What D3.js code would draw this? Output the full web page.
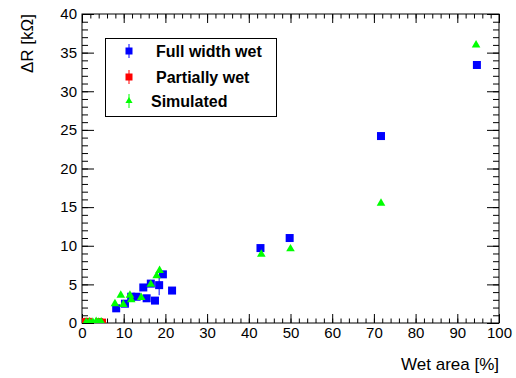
<!DOCTYPE html>
<html>
<head>
<meta charset="utf-8">
<script src="https://cdn.jsdelivr.net/npm/d3@7"></script>
<style>
  body { margin: 0; background: #fff; }
  svg { font-family: "Liberation Sans", Arial, sans-serif; }
</style>
</head>
<body>
<svg width="516" height="378"></svg>
<script>
// data
const fullX = [8.2, 10.3, 11.8, 13.1, 14.7, 15.5, 16.5, 17.5, 18.5, 19.4, 21.6, 42.8, 49.8, 71.7, 94.7];
const fullY = [1.9, 2.5, 3.4, 3.4, 4.6, 3.2, 5.1, 2.9, 4.9, 6.3, 4.2, 9.7, 11.0, 24.2, 33.4];
const fullErr = [0.3, 0.3, 0.3, 0.3, 0.3, 0.3, 0.3, 0.3, 1.3, 0.3, 0.3, 0.4, 0.4, 0.5, 0.5];

const partX = [0.3, 0.8, 1.4, 4.1, 4.8];
const partY = [0.1, 0.05, 0.15, 0.1, 0.05];

const simX = [1.0, 1.8, 2.6, 3.4, 4.0, 4.6, 7.9, 9.3, 9.9, 11.5, 11.8, 14.2, 16.5, 17.9, 18.6, 43.0, 50.0, 71.7, 94.5];
const simY = [0.1, 0.15, 0.1, 0.2, 0.1, 0.15, 2.5, 3.6, 2.4, 3.6, 3.0, 3.3, 5.0, 6.1, 6.8, 8.9, 9.6, 15.5, 36.0];

const legendLabels = ['Full width wet', 'Partially wet', 'Simulated'];

const svg = d3.select('svg');
const fLeft = 82, fRight = 499, fTop = 14, fBottom = 323;

const x = d3.scaleLinear().domain([0, 100]).range([fLeft, fRight]);
const y = d3.scaleLinear().domain([0, 40]).range([fBottom, fTop]);

// clip markers to the frame
svg.append('clipPath').attr('id', 'frameClip')
    .append('rect')
    .attr('x', fLeft).attr('y', fTop)
    .attr('width', fRight - fLeft).attr('height', fBottom - fTop);

// axes: major + minor ticks, on all four sides, pointing inward
const majX = 9, minX = 4.5, majY = 12, minY = 6;

function styleAxis(g) {
    g.select('.domain').remove();
    g.selectAll('line').attr('stroke', '#000');
}

svg.append('g').attr('transform', `translate(0,${fBottom})`)
    .call(d3.axisBottom(x).tickValues(d3.range(0, 101, 2)).tickSize(-minX).tickFormat(''))
    .call(styleAxis);
svg.append('g').attr('transform', `translate(0,${fBottom})`)
    .call(d3.axisBottom(x).tickValues(d3.range(0, 101, 10)).tickSize(-majX).tickPadding(4).tickFormat(d3.format('d')))
    .call(styleAxis)
    .selectAll('text').attr('font-size', 15).attr('fill', '#000');
svg.append('g').attr('transform', `translate(0,${fTop})`)
    .call(d3.axisTop(x).tickValues(d3.range(0, 101, 2)).tickSize(-minX).tickFormat(''))
    .call(styleAxis);
svg.append('g').attr('transform', `translate(0,${fTop})`)
    .call(d3.axisTop(x).tickValues(d3.range(0, 101, 10)).tickSize(-majX).tickFormat(''))
    .call(styleAxis);

svg.append('g').attr('transform', `translate(${fLeft},0)`)
    .call(d3.axisLeft(y).tickValues(d3.range(0, 41, 1)).tickSize(-minY).tickFormat(''))
    .call(styleAxis);
svg.append('g').attr('transform', `translate(${fLeft},0)`)
    .call(d3.axisLeft(y).tickValues(d3.range(0, 41, 5)).tickSize(-majY).tickPadding(5).tickFormat(d3.format('d')))
    .call(styleAxis)
    .selectAll('text').attr('font-size', 15).attr('fill', '#000');
svg.append('g').attr('transform', `translate(${fRight},0)`)
    .call(d3.axisRight(y).tickValues(d3.range(0, 41, 1)).tickSize(-minY).tickFormat(''))
    .call(styleAxis);
svg.append('g').attr('transform', `translate(${fRight},0)`)
    .call(d3.axisRight(y).tickValues(d3.range(0, 41, 5)).tickSize(-majY).tickFormat(''))
    .call(styleAxis);

// frame
svg.append('rect')
    .attr('x', fLeft).attr('y', fTop)
    .attr('width', fRight - fLeft).attr('height', fBottom - fTop)
    .attr('fill', 'none').attr('stroke', '#000');

// axis titles
svg.append('text')
    .attr('x', fRight).attr('y', 370)
    .attr('text-anchor', 'end')
    .attr('font-size', 17)
    .text('Wet area [%]');
svg.append('text')
    .attr('transform', `translate(33,${fTop}) rotate(-90)`)
    .attr('text-anchor', 'end')
    .attr('font-size', 17)
    .text('ΔR [kΩ]');

// markers
const sq = 8;
const tri = d3.symbol().type(d3.symbolTriangle).size(32);
const plot = svg.append('g').attr('clip-path', 'url(#frameClip)');

const full = fullX.map((v, i) => ({ x: v, y: fullY[i], e: fullErr[i] }));
plot.selectAll('line.err')
    .data(full)
    .enter()
    .append('line')
    .attr('class', 'err')
    .attr('x1', d => x(d.x)).attr('x2', d => x(d.x))
    .attr('y1', d => y(d.y - d.e)).attr('y2', d => y(d.y + d.e))
    .attr('stroke', '#0000ff');
plot.selectAll('rect.full')
    .data(full)
    .enter()
    .append('rect')
    .attr('class', 'full')
    .attr('x', d => x(d.x) - sq / 2).attr('y', d => y(d.y) - sq / 2)
    .attr('width', sq).attr('height', sq)
    .attr('fill', '#0000ff');

plot.selectAll('rect.part')
    .data(partX.map((v, i) => ({ x: v, y: partY[i] })))
    .enter()
    .append('rect')
    .attr('class', 'part')
    .attr('x', d => x(d.x) - sq / 2).attr('y', d => y(d.y) - sq / 2)
    .attr('width', sq).attr('height', sq)
    .attr('fill', '#ff0000');

plot.selectAll('path.sim')
    .data(simX.map((v, i) => ({ x: v, y: simY[i] })))
    .enter()
    .append('path')
    .attr('class', 'sim')
    .attr('d', tri)
    .attr('transform', d => `translate(${x(d.x)},${y(d.y)})`)
    .attr('fill', '#00ff00');

// legend
const leg = svg.append('g');
leg.append('rect')
    .attr('x', 105.5).attr('y', 38.5)
    .attr('width', 171).attr('height', 78)
    .attr('fill', '#fff').attr('stroke', '#000');

const legColors = ['#0000ff', '#ff0000', '#00ff00'];
const legY = [51, 77, 101];
const legTextX = [156, 156, 151];
legendLabels.forEach((lab, i) => {
    const g = leg.append('g').attr('transform', `translate(129,${legY[i]})`);
    g.append('line').attr('y1', -7).attr('y2', 7).attr('stroke', legColors[i]);
    if (i < 2) {
        g.append('rect').attr('x', -3.5).attr('y', -3.5).attr('width', 7).attr('height', 7).attr('fill', legColors[i]);
    } else {
        g.append('path').attr('d', d3.symbol().type(d3.symbolTriangle).size(22)).attr('fill', legColors[i]);
    }
    leg.append('text')
        .attr('x', legTextX[i]).attr('y', legY[i])
        .attr('dy', '0.35em')
        .attr('font-size', 16)
        .attr('font-weight', 'bold')
        .text(lab);
});
</script>
</body>
</html>
